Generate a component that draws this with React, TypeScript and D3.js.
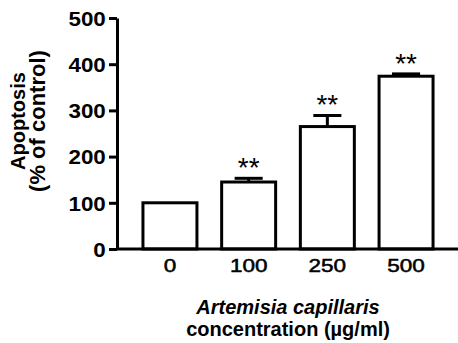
import * as d3 from 'd3';
import React from 'react';

const doses = ['0', '100', '250', '500'];
const apoptosis = [100, 145, 265, 374];
const sem = [0, 8, 24, 5];
const marks = ['', '**', '**', '**'];
const yTicks = [0, 100, 200, 300, 400, 500];

export default function App() {
  const svgRef = React.useRef<SVGSVGElement>(null);

  React.useEffect(() => {
    if (svgRef.current == null) {
      return;
    }
    const w = 458;
    const h = 343;
    const font = "'Liberation Sans', Arial, sans-serif";

    const svg = d3.select(svgRef.current);
    svg.selectAll('*').remove();

    const xScale = d3
      .scaleBand()
      .domain(doses)
      .range([130.6, 445.4])
      .paddingInner(0.314)
      .paddingOuter(0.157);

    const yScale = d3.scaleLinear().domain([0, 500]).range([249, 18]);

    // bars
    svg
      .selectAll('rect.bar')
      .data(apoptosis)
      .enter()
      .append('rect')
      .attr('class', 'bar')
      .attr('x', (d, i) => xScale(doses[i])!)
      .attr('y', (d) => yScale(d))
      .attr('width', xScale.bandwidth())
      .attr('height', (d) => yScale(0) - yScale(d))
      .attr('fill', 'white')
      .attr('stroke', 'black')
      .attr('stroke-width', 3);

    // error bars (upper only) + significance marks
    const capW = xScale.bandwidth() * 0.52;
    for (let i = 0; i < doses.length; i++) {
      if (sem[i] <= 0) continue;
      const cx = xScale(doses[i])! + xScale.bandwidth() / 2;
      const top = yScale(apoptosis[i] + sem[i]);
      svg
        .append('line')
        .attr('x1', cx)
        .attr('x2', cx)
        .attr('y1', yScale(apoptosis[i]))
        .attr('y2', top)
        .attr('stroke', 'black')
        .attr('stroke-width', 3);
      svg
        .append('line')
        .attr('x1', cx - capW / 2)
        .attr('x2', cx + capW / 2)
        .attr('y1', top)
        .attr('y2', top)
        .attr('stroke', 'black')
        .attr('stroke-width', 3);
      svg
        .append('text')
        .attr('x', cx)
        .attr('y', top - 1)
        .attr('text-anchor', 'middle')
        .style('font', `28px ${font}`)
        .text(marks[i]);
    }

    // y axis
    const yAxis = d3.axisLeft(yScale).tickValues(yTicks).tickSize(8).tickSizeOuter(0).tickPadding(2);
    const gy = svg.append('g').attr('transform', 'translate(117, 0)').call(yAxis);
    gy.selectAll('path, line').attr('stroke', 'black').attr('stroke-width', 3);
    gy.selectAll('text')
      .style('font', `bold 20px ${font}`)
      .attr('fill', 'black')
      .attr('dy', '0.36em')
      .attr('transform', 'scale(1.12,1)');

    // x axis
    svg
      .append('line')
      .attr('x1', 117)
      .attr('x2', w)
      .attr('y1', yScale(0))
      .attr('y2', yScale(0))
      .attr('stroke', 'black')
      .attr('stroke-width', 3);

    svg
      .selectAll('text.xt')
      .data(doses)
      .enter()
      .append('text')
      .attr('class', 'xt')
      .attr('transform', (d) => `translate(${xScale(d)! + xScale.bandwidth() / 2}, 272) scale(1.25,1)`)
      .attr('text-anchor', 'middle')
      .style('font', `18px ${font}`)
      .style('stroke', 'black')
      .style('stroke-width', 0.5)
      .text((d) => d);

    // x title
    svg
      .append('text')
      .attr('x', 288)
      .attr('y', 314)
      .attr('text-anchor', 'middle')
      .style('font', `italic bold 20px ${font}`)
      .text('Artemisia capillaris');
    svg
      .append('text')
      .attr('x', 288)
      .attr('y', h - 7)
      .attr('text-anchor', 'middle')
      .style('font', `bold 20px ${font}`)
      .text('concentration (\u00b5g/ml)');

    // y title
    const yt = svg
      .append('text')
      .attr('transform', 'translate(0, 121) rotate(-90)')
      .attr('text-anchor', 'middle')
      .style('font', `bold 20px ${font}`);
    yt.append('tspan').attr('x', 0).attr('y', 25).text('Apoptosis');
    yt.append('tspan').attr('x', 0).attr('y', 45).style('font-size', '22px').text('(% of control)');
  }, []);

  return (
    <svg
      ref={svgRef}
      width={458}
      height={343}
      style={{ position: 'absolute', left: 0, top: 0, background: 'white' }}
    ></svg>
  );
}
